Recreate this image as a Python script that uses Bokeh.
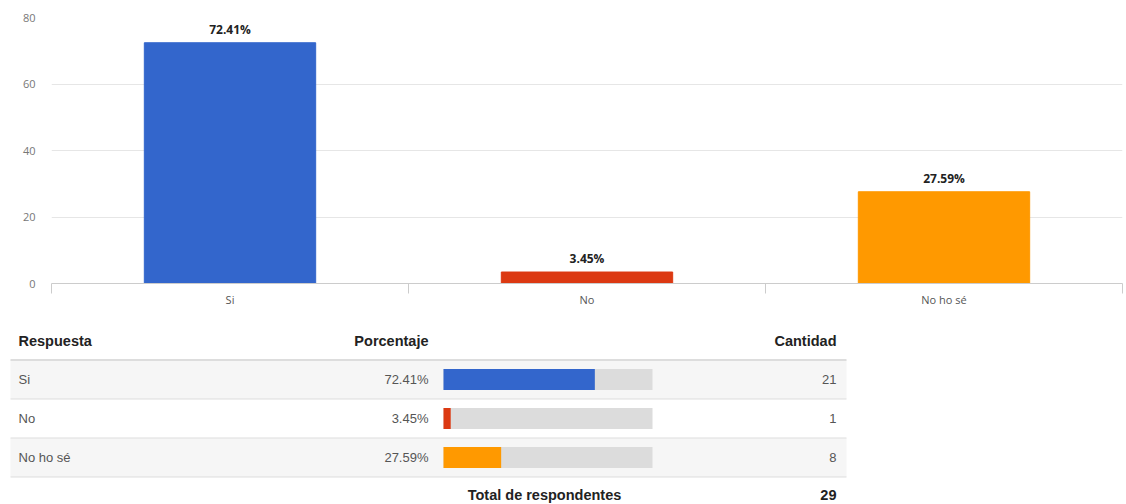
from bokeh.plotting import figure
from bokeh.models import Range1d, FixedTicker, ColumnDataSource
from bokeh.layouts import column
from bokeh.embed import file_html
from bokeh.resources import INLINE
from bokeh.core.properties import value

# ---- data ----
categories = ["Si", "No", "No ho sé"]
percentages = [72.41, 3.45, 27.59]
counts = [21, 1, 8]
total = 29
colors = ["#3366cc", "#dc3912", "#ff9900"]
y_ticks = [0, 20, 40, 60, 80]
headers = ["Respuesta", "Porcentaje", "Cantidad"]
footer_label = "Total de respondentes"

CHART_FONT = "Open Sans"
TABLE_FONT = "Liberation Sans"

# ---- bar chart ----
n = len(categories)
xs = [i + 0.5 for i in range(n)]
src = ColumnDataSource(dict(
    x=xs, top=percentages, color=colors,
    label=[f"{v:.2f}%" for v in percentages],
))

p = figure(width=1126, height=310, output_backend="svg", toolbar_location=None,
           x_range=Range1d(0, n), y_range=Range1d(0, 80),
           min_border_left=51, min_border_right=4, min_border_top=17, min_border_bottom=27)
p.frame_align = False
p.outline_line_color = None
p.background_fill_color = "white"
p.border_fill_color = "white"

p.vbar(x="x", top="top", width=0.48, bottom=0, color="color", source=src)
p.text(x="x", y="top", text="label", source=src, text_align="center", text_baseline="bottom",
       y_offset=-5, text_font=value(CHART_FONT), text_font_style="bold",
       text_font_size="12px", text_color="#222222")

xa = p.xaxis[0]
xa.ticker = FixedTicker(ticks=xs, minor_ticks=list(range(n + 1)))
xa.major_label_overrides = {x: c for x, c in zip(xs, categories)}
xa.major_tick_line_color = None
xa.major_tick_out = 0
xa.major_tick_in = 0
xa.minor_tick_out = 10
xa.minor_tick_in = 0
xa.minor_tick_line_color = "#cccccc"
xa.axis_line_color = "#cccccc"
xa.major_label_standoff = -2
xa.major_label_text_font = CHART_FONT
xa.major_label_text_font_size = "11px"
xa.major_label_text_color = "#555555"

ya = p.yaxis[0]
ya.ticker = FixedTicker(ticks=y_ticks)
ya.axis_line_color = None
ya.major_tick_line_color = None
ya.minor_tick_line_color = None
ya.major_tick_out = 0
ya.major_tick_in = 0
ya.major_label_standoff = 16
ya.major_label_text_font = CHART_FONT
ya.major_label_text_font_size = "11px"
ya.major_label_text_color = "#777777"

p.xgrid.grid_line_color = None
p.ygrid.grid_line_color = "#e6e6e6"
p.ygrid.ticker = FixedTicker(ticks=y_ticks)

# ---- table ----
row_px = 39.0
first_row_px = 379.0 - 310.0
top_r = -first_row_px / row_px
bot_r = (194 - first_row_px) / row_px

t = figure(width=1126, height=194, output_backend="svg", toolbar_location=None,
           x_range=Range1d(0, 1126), y_range=Range1d(bot_r, top_r),
           x_axis_location=None, y_axis_location=None,
           min_border_left=0, min_border_right=0, min_border_top=0, min_border_bottom=0)
t.frame_align = False
t.outline_line_color = None
t.grid.visible = False
t.extra_x_ranges = {"pct": Range1d(-443 * 100 / 209, (1126 - 443) * 100 / 209)}

rows = list(range(n))
tsrc = ColumnDataSource(dict(
    r=rows, cat=categories, pct=percentages,
    pct_label=[f"{v:.2f}%" for v in percentages],
    cnt=[str(c) for c in counts], color=colors,
    bg=["#f6f6f6" if i % 2 == 0 else "#ffffff" for i in rows],
))

TABLE_LEFT, TABLE_RIGHT = 10, 846
t.hbar(y="r", height=1, left=TABLE_LEFT, right=TABLE_RIGHT, fill_color="bg",
       line_color=None, source=tsrc)
# row separators
t.segment(x0=TABLE_LEFT, x1=TABLE_RIGHT, y0=[r + 0.5 for r in rows], y1=[r + 0.5 for r in rows],
          line_color="#dddddd", line_width=1)
# header separator
t.segment(x0=TABLE_LEFT, x1=TABLE_RIGHT, y0=-0.5, y1=-0.5, line_color="#dddddd", line_width=2)

# mini bars
t.hbar(y="r", height=0.54, left=0, right=100, fill_color="#dcdcdc", line_color=None,
       source=tsrc, x_range_name="pct")
t.hbar(y="r", height=0.54, left=0, right="pct", fill_color="color", line_color=None,
       source=tsrc, x_range_name="pct")

common = dict(text_font=value(TABLE_FONT), text_baseline="middle")
bold = dict(text_font_style="bold", text_font_size="14.5px", text_color="#222222", **common)
reg = dict(text_font_size="13px", **common)
# header
t.text(x=[18], y=[-1], text=[headers[0]], text_align="left", **bold)
t.text(x=[428], y=[-1], text=[headers[1]], text_align="right", **bold)
t.text(x=[836], y=[-1], text=[headers[2]], text_align="right", **bold)
# rows
t.text(x=18, y="r", text="cat", source=tsrc, text_align="left", text_color="#555555", **reg)
t.text(x=428, y="r", text="pct_label", source=tsrc, text_align="right", text_color="#555555", **reg)
t.text(x=836, y="r", text="cnt", source=tsrc, text_align="right", text_color="#555555", **reg)
# footer
t.text(x=[544], y=[2.95], text=[footer_label], text_align="center", **bold)
t.text(x=[836], y=[2.95], text=[str(total)], text_align="right", **bold)

layout = column(p, t, spacing=0)
open("out.html", "w").write(file_html(layout, INLINE))
